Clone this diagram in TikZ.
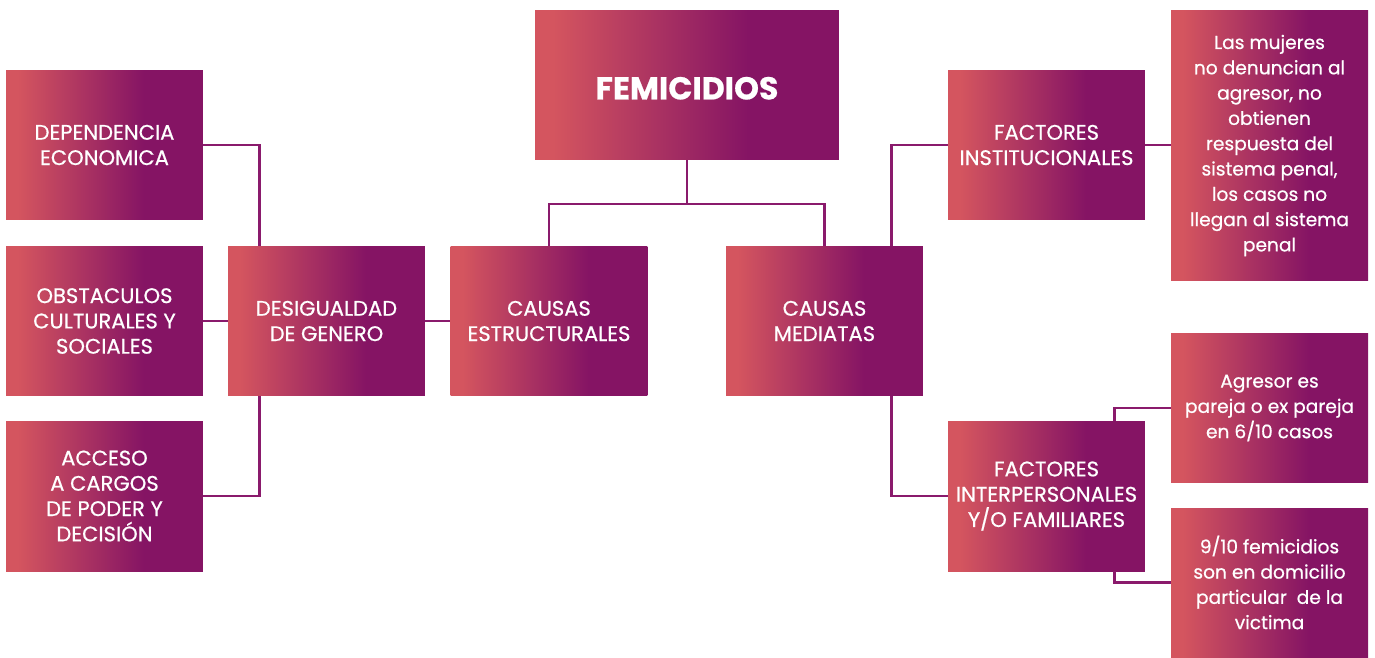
\documentclass[tikz,border=0pt]{standalone}
\usepackage{xcolor}
\usepackage{tikz}
\usepackage{fontspec}
\setmainfont{Poppins}[FakeBold=0.6]
\definecolor{femred}{RGB}{212, 85, 95}
\definecolor{femviolet}{RGB}{133, 20, 100}
\definecolor{femline}{RGB}{138, 26, 108}
\usetikzlibrary{positioning, calc}
\pgfdeclarehorizontalshading{femgrad}{100bp}{color(0bp)=(femred); color(28bp)=(femred); color(60bp)=(femviolet); color(100bp)=(femviolet)}
\tikzset{
    causebox/.style={shading=femgrad, shading angle=0, text=white, align=center,
          minimum width=3.94cm, minimum height=3cm, inner sep=2pt,
          font=\fontsize{12}{14.4}\selectfont},
    notebox/.style={causebox, font=\fontsize{10.6}{14.4}\selectfont},
    link/.style={draw=femline, line width=1.6pt}
}

\begin{document}
\begin{tikzpicture}[x=0.02cm, y=-0.02cm]
    \useasboundingbox (0,0) rectangle (1375,657);

    % top
    \node[causebox, minimum width=6.08cm, text height=16.4pt, text depth=0pt, font=\fontsize{18}{22}\selectfont\bfseries] (fem) at (687,85) {FEMICIDIOS};

    % left branch
    \node[causebox] (dep) at (104.5,145) {DEPENDENCIA\\ECONOMICA};
    \node[causebox] (obs) at (104.5,321) {OBSTACULOS\\CULTURALES Y\\SOCIALES};
    \node[causebox] (acc) at (104.5,496) {ACCESO\\A CARGOS\\DE PODER Y\\DECISIÓN};
    \node[causebox] (des) at (326.5,321) {DESIGUALDAD\\DE GENERO};
    \node[causebox] (est) at (549,321) {CAUSAS\\ESTRUCTURALES};

    % right branch
    \node[causebox] (med) at (824.5,321) {CAUSAS\\MEDIATAS};
    \node[causebox] (inst) at (1046.5,145) {FACTORES\\INSTITUCIONALES};
    \node[notebox, minimum height=5.42cm] (muj) at (1269.5,145.5) {Las mujeres\\no denuncian al\\agresor, no\\obtienen\\respuesta del\\sistema penal,\\los casos no\\llegan al sistema\\penal};
    \node[causebox] (inter) at (1046.5,496) {FACTORES\\INTERPERSONALES\\Y/O FAMILIARES};
    \node[notebox] (agr) at (1269.5,408) {Agresor es\\pareja o ex pareja\\en 6/10 casos};
    \node[notebox, minimum height=2.98cm] (nueve) at (1269.5,582.5) {9/10 femicidios\\son en domicilio\\particular\ \ de la\\victima};

    % connectors
    \coordinate (split) at (687,204);
    \draw[link] (fem.south) -- (split);
    \draw[link] (est.north) |- (split) -| (med.north);

    \draw[link] (dep.east) -| ($(des.north west)+(32,0)$);
    \draw[link] (acc.east) -| ($(des.south west)+(32,0)$);
    \draw[link] (obs) -- (des);
    \draw[link] (des) -- (est);

    \draw[link] (inst.west) -| ($(med.north east)+(-32,0)$);
    \draw[link] (inter.west) -| ($(med.south east)+(-32,0)$);
    \draw[link] (inst.east) -- (inst.east -| muj.west);
    \draw[link] (agr.west) -| ($(inter.north east)+(-31,0)$);
    \draw[link] (nueve.west) -| ($(inter.south east)+(-31,0)$);
\end{tikzpicture}
\end{document}
